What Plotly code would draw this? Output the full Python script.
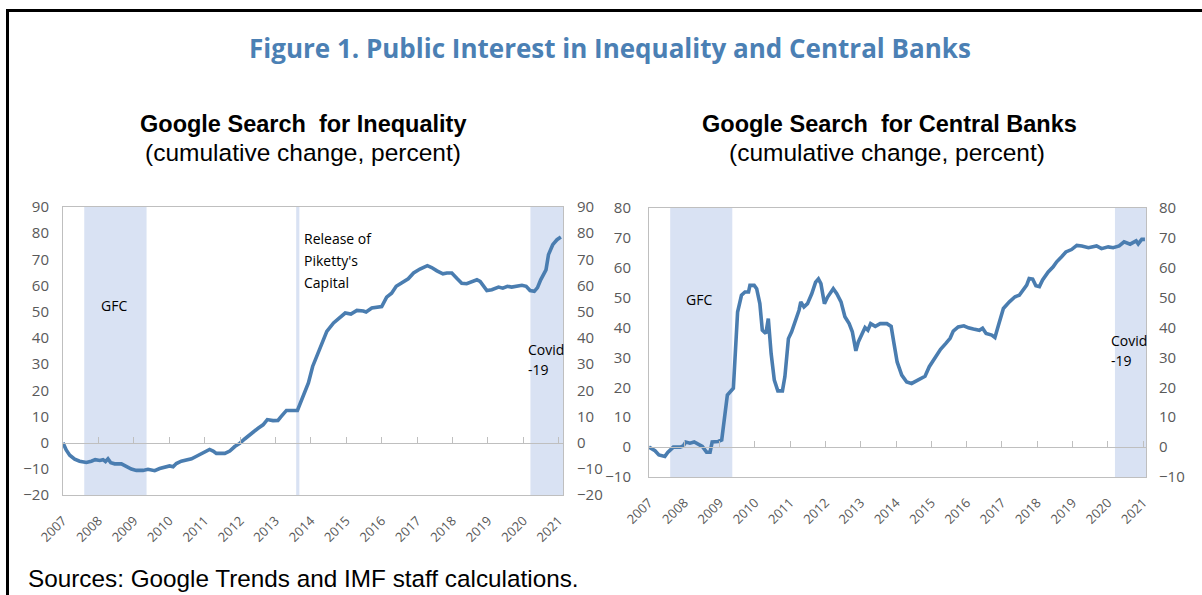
import plotly.graph_objects as go

W, H = 1202, 595

# ---------------- data ----------------
years = list(range(2007, 2022))
year_labels = [str(y) for y in years]

ineq_x = [2007.0, 2007.09, 2007.19, 2007.33, 2007.47, 2007.66, 2007.80, 2007.91, 2008.04, 2008.13,
          2008.20, 2008.27, 2008.35, 2008.46, 2008.65, 2008.79, 2008.93, 2009.07, 2009.26, 2009.40,
          2009.50, 2009.59, 2009.73, 2009.87, 2010.01, 2010.11, 2010.20, 2010.34, 2010.48, 2010.63,
          2010.77, 2010.91, 2011.05, 2011.14, 2011.24, 2011.33, 2011.57, 2011.71, 2011.85, 2011.99,
          2012.13, 2012.32, 2012.51, 2012.65, 2012.77, 2012.93, 2013.07, 2013.17, 2013.31, 2013.62,
          2013.79, 2013.93, 2014.05, 2014.21, 2014.45, 2014.64, 2014.82, 2014.97, 2015.13, 2015.30,
          2015.48, 2015.56, 2015.72, 2015.88, 2016.00, 2016.14, 2016.28, 2016.41, 2016.57, 2016.75,
          2016.90, 2017.08, 2017.29, 2017.41, 2017.56, 2017.73, 2017.84, 2017.98, 2018.12, 2018.26,
          2018.40, 2018.55, 2018.69, 2018.78, 2018.87, 2018.97, 2019.11, 2019.30, 2019.42, 2019.55,
          2019.67, 2019.82, 2019.96, 2020.08, 2020.19, 2020.31, 2020.40, 2020.49, 2020.64, 2020.71,
          2020.83, 2020.95, 2021.06]
ineq_y = [0, -2.8, -4.8, -6.3, -7.1, -7.6, -7.1, -6.5, -6.8, -6.5,
          -7.2, -6.2, -7.7, -8.1, -8.1, -9.0, -10.1, -10.6, -10.6, -10.2,
          -10.5, -10.7, -9.9, -9.3, -8.9, -9.2, -8.0, -7.1, -6.8, -6.2,
          -5.2, -4.1, -3.1, -2.6, -3.2, -4.1, -4.1, -3.2, -1.5, -0.3,
          1.4, 3.6, 5.5, 6.8, 8.8, 8.4, 8.5, 10.1, 12.3, 12.3,
          17.7, 22.8, 29.1, 34.2, 42.5, 45.7, 47.8, 49.5, 49.1, 50.5,
          50.3, 49.9, 51.4, 51.6, 52.0, 55.6, 57.1, 59.7, 60.9, 62.6,
          64.8, 66.3, 67.6, 66.9, 65.6, 64.5, 64.8, 64.8, 62.8, 60.9,
          60.7, 61.6, 62.2, 61.6, 59.7, 58.1, 58.4, 59.4, 59.0, 59.7,
          59.4, 59.9, 60.1, 59.7, 58.1, 57.8, 59.2, 62.2, 66.0, 71.8,
          75.6, 77.5, 78.5]

cb_x = [2007.00, 2007.17, 2007.28, 2007.45, 2007.53, 2007.69, 2007.88, 2007.97, 2008.04, 2008.16,
        2008.28, 2008.40, 2008.51, 2008.63, 2008.73, 2008.79, 2008.96, 2009.06, 2009.13, 2009.22,
        2009.39, 2009.44, 2009.51, 2009.62, 2009.72, 2009.82, 2009.86, 2009.98, 2010.05, 2010.14,
        2010.21, 2010.31, 2010.38, 2010.46, 2010.55, 2010.65, 2010.78, 2010.85, 2010.95, 2011.04,
        2011.14, 2011.25, 2011.30, 2011.39, 2011.49, 2011.61, 2011.72, 2011.80, 2011.87, 2011.97,
        2012.06, 2012.16, 2012.22, 2012.32, 2012.44, 2012.55, 2012.67, 2012.76, 2012.86, 2012.93,
        2013.03, 2013.12, 2013.20, 2013.28, 2013.41, 2013.55, 2013.74, 2013.86, 2013.94, 2014.03,
        2014.16, 2014.30, 2014.44, 2014.58, 2014.73, 2014.82, 2014.94, 2015.10, 2015.26, 2015.41,
        2015.53, 2015.62, 2015.76, 2015.92, 2016.05, 2016.19, 2016.36, 2016.45, 2016.55, 2016.71,
        2016.80, 2016.90, 2017.04, 2017.21, 2017.37, 2017.49, 2017.60, 2017.70, 2017.77, 2017.87,
        2017.96, 2018.06, 2018.15, 2018.31, 2018.45, 2018.55, 2018.69, 2018.81, 2018.97, 2019.12,
        2019.26, 2019.45, 2019.68, 2019.82, 2020.01, 2020.15, 2020.32, 2020.46, 2020.63, 2020.80,
        2020.86, 2020.96, 2021.05]
cb_y = [0, -1.2, -2.6, -3.1, -1.8, 0, 0, 0.4, 1.7, 1.3,
        1.7, 1.0, 0.2, -1.7, -1.7, 1.7, 1.9, 2.4, 9.1, 17.4,
        19.7, 29.1, 45.2, 50.8, 51.9, 51.9, 54.1, 54.1, 53.0, 48.0,
        39.1, 38.0, 43.0, 31.3, 22.4, 18.8, 18.8, 23.6, 36.3, 38.6,
        41.9, 45.8, 48.6, 46.9, 48.0, 51.3, 55.2, 56.3, 54.7, 48.0,
        50.2, 51.7, 53.0, 51.3, 48.6, 43.6, 41.3, 38.6, 32.2, 35.2,
        38.0, 40.0, 39.1, 41.3, 40.4, 41.3, 41.3, 40.4, 34.7, 28.5,
        24.1, 21.8, 21.3, 22.1, 23.2, 23.7, 26.9, 29.7, 32.7, 34.7,
        36.4, 38.8, 40.2, 40.6, 39.9, 39.5, 39.1, 39.8, 38.0, 37.5,
        36.7, 40.8, 46.4, 48.6, 50.3, 50.8, 52.5, 54.2, 56.4, 56.2,
        54.0, 53.7, 55.9, 58.6, 60.3, 62.0, 63.7, 65.3, 66.1, 67.5,
        67.3, 66.7, 67.3, 66.4, 67.0, 66.7, 67.3, 68.7, 67.9, 69.0,
        68.0, 69.5, 69.5]

assert len(ineq_x) == len(ineq_y)
assert len(cb_x) == len(cb_y)

gfc_start, gfc_end = 2007.6, 2009.36
covid_start = 2020.2
piketty = 2013.63

left_xrange = [2007, 2021.12]
right_xrange = [2007, 2021.08]
left_yrange = [-20, 90]
right_yrange = [-10, 80]
left_yticks = list(range(-20, 91, 10))
right_yticks = list(range(-10, 81, 10))

# ---------------- style ----------------
LINE = "#4A7DB0"
SHADE = "#D9E2F3"
AXIS = "#BFBFBF"
TICKC = "#595959"
TITLEC = "#4B80B4"


def px(x):
    return x / W


def py(y):
    return 1 - y / H


L_dom_x = [px(63), px(563)]
L_dom_y = [py(495), py(207)]
R_dom_x = [px(649), px(1146)]
R_dom_y = [py(477), py(208)]


def zero_pos(dom, rng):
    return dom[0] + (0 - rng[0]) / (rng[1] - rng[0]) * (dom[1] - dom[0])


fig = go.Figure()
fig.add_trace(go.Scatter(x=ineq_x, y=ineq_y, mode="lines", line=dict(color=LINE, width=3.6),
                         xaxis="x", yaxis="y", hoverinfo="skip", showlegend=False))
fig.add_trace(go.Scatter(x=cb_x, y=cb_y, mode="lines", line=dict(color=LINE, width=3.6),
                         xaxis="x2", yaxis="y3", hoverinfo="skip", showlegend=False))
# invisible traces to activate overlay axes
for xa, ya in [("x", "y2"), ("x3", "y"), ("x2", "y4"), ("x4", "y3")]:
    fig.add_trace(go.Scatter(x=[2010], y=[0], mode="markers", marker=dict(opacity=0),
                             xaxis=xa, yaxis=ya, hoverinfo="skip", showlegend=False))

tickfont = dict(family="Open Sans", size=15, color=TICKC)
yearfont = dict(family="Open Sans", size=13, color=TICKC)

xbase = dict(tickvals=years, ticktext=year_labels, tickangle=-45, ticks="", showline=True,
             mirror=True, linecolor=AXIS, linewidth=1, showgrid=False, zeroline=False,
             tickfont=yearfont, ticklabelstandoff=12, automargin=False)
ybase = dict(showgrid=False, zeroline=False, ticks="", showline=True, mirror=True,
             linecolor=AXIS, linewidth=1, tickfont=tickfont, automargin=False)
zbase = dict(ticks="inside", ticklen=6, tickcolor=AXIS, tickwidth=1, showline=True,
             linecolor=AXIS, linewidth=1, showticklabels=False, showgrid=False,
             zeroline=False, tickvals=years, anchor="free", side="bottom", automargin=False)

fig.update_layout(
    template="none",
    width=W, height=H, margin=dict(l=0, r=0, t=0, b=0, pad=0, autoexpand=False),
    paper_bgcolor="white", plot_bgcolor="white", showlegend=False,
    xaxis=dict(domain=L_dom_x, range=left_xrange, anchor="y", **xbase),
    yaxis=dict(domain=L_dom_y, range=left_yrange, tickvals=left_yticks, anchor="x",
               ticklabelstandoff=10, **ybase),
    yaxis2=dict(overlaying="y", side="right", anchor="x", range=left_yrange,
                tickvals=left_yticks, showgrid=False, zeroline=False, showline=False,
                ticks="", tickfont=tickfont, ticklabelstandoff=13, automargin=False),
    xaxis3=dict(overlaying="x", range=left_xrange,
                position=zero_pos(L_dom_y, left_yrange), **zbase),
    xaxis2=dict(domain=R_dom_x, range=right_xrange, anchor="y3", **xbase),
    yaxis3=dict(domain=R_dom_y, range=right_yrange, tickvals=right_yticks, anchor="x2",
                ticklabelstandoff=14, **ybase),
    yaxis4=dict(overlaying="y3", side="right", anchor="x2", range=right_yrange,
                tickvals=right_yticks, showgrid=False, zeroline=False, showline=False,
                ticks="", tickfont=tickfont, ticklabelstandoff=12, automargin=False),
    xaxis4=dict(overlaying="x2", range=right_xrange,
                position=zero_pos(R_dom_y, right_yrange), **zbase),
)

shapes = []
for xr, yr, x1end in [("x", "y domain", left_xrange[1]), ("x2", "y3 domain", right_xrange[1])]:
    shapes.append(dict(type="rect", xref=xr, yref=yr, x0=gfc_start, x1=gfc_end, y0=0, y1=1,
                       fillcolor=SHADE, line=dict(width=0), layer="below"))
    shapes.append(dict(type="rect", xref=xr, yref=yr, x0=covid_start, x1=x1end, y0=0, y1=1,
                       fillcolor=SHADE, line=dict(width=0), layer="below"))
shapes.append(dict(type="rect", xref="x", yref="y domain", x0=piketty - 0.045, x1=piketty + 0.045,
                   y0=0, y1=1, fillcolor=SHADE, line=dict(width=0), layer="below"))
# outer frame
shapes.append(dict(type="line", xref="paper", yref="paper", x0=px(6), x1=1, y0=py(10.5), y1=py(10.5),
                   line=dict(color="black", width=3)))
shapes.append(dict(type="line", xref="paper", yref="paper", x0=px(7.5), x1=px(7.5), y0=py(9), y1=0,
                   line=dict(color="black", width=3)))
fig.update_layout(shapes=shapes)

ann = []


def T(text, x, y, size, family, color="black", bold=False, xanchor="center"):
    ann.append(dict(text=f"<b>{text}</b>" if bold else text, x=px(x), y=py(y), xref="paper",
                    yref="paper", xanchor=xanchor, yanchor="middle", showarrow=False,
                    font=dict(family=family, size=size, color=color)))


T("Figure 1. Public Interest in Inequality and Central Banks", 610, 48, 26, "Open Sans", TITLEC, bold=True)
T("Google Search  for Inequality", 303, 124, 23.5, "Liberation Sans", bold=True)
T("(cumulative change, percent)", 303, 152, 24.5, "Liberation Sans")
T("Google Search  for Central Banks", 889, 124, 23.5, "Liberation Sans", bold=True)
T("(cumulative change, percent)", 887, 152, 24.5, "Liberation Sans")
T("Sources: Google Trends and IMF staff calculations.", 26, 578, 24.3, "Liberation Sans", xanchor="left")


def D(text, x, y, xr, yr, xanchor="left"):
    ann.append(dict(text=text, x=x, y=y, xref=xr, yref=yr, xanchor=xanchor, yanchor="middle",
                    showarrow=False, font=dict(family="Open Sans", size=14, color="black")))


D("GFC", 2008.44, 52.3, "x", "y", xanchor="center")
D("Release of", 2013.76, 77.9, "x", "y")
D("Piketty's", 2013.76, 69.6, "x", "y")
D("Capital", 2013.76, 61.0, "x", "y")
D("Covid", 2020.08, 35.5, "x", "y")
D("-19", 2020.08, 27.9, "x", "y")
D("GFC", 2008.42, 49.5, "x2", "y3", xanchor="center")
D("Covid", 2020.04, 35.6, "x2", "y3")
D("-19", 2020.04, 29.1, "x2", "y3")

fig.update_layout(annotations=ann)

fig.write_html(
    "out.html",
    config={"displayModeBar": False, "staticPlot": True},
    post_script="document.body.style.margin='0';document.body.style.padding='0';"
                "document.documentElement.style.overflow='hidden';",
)
